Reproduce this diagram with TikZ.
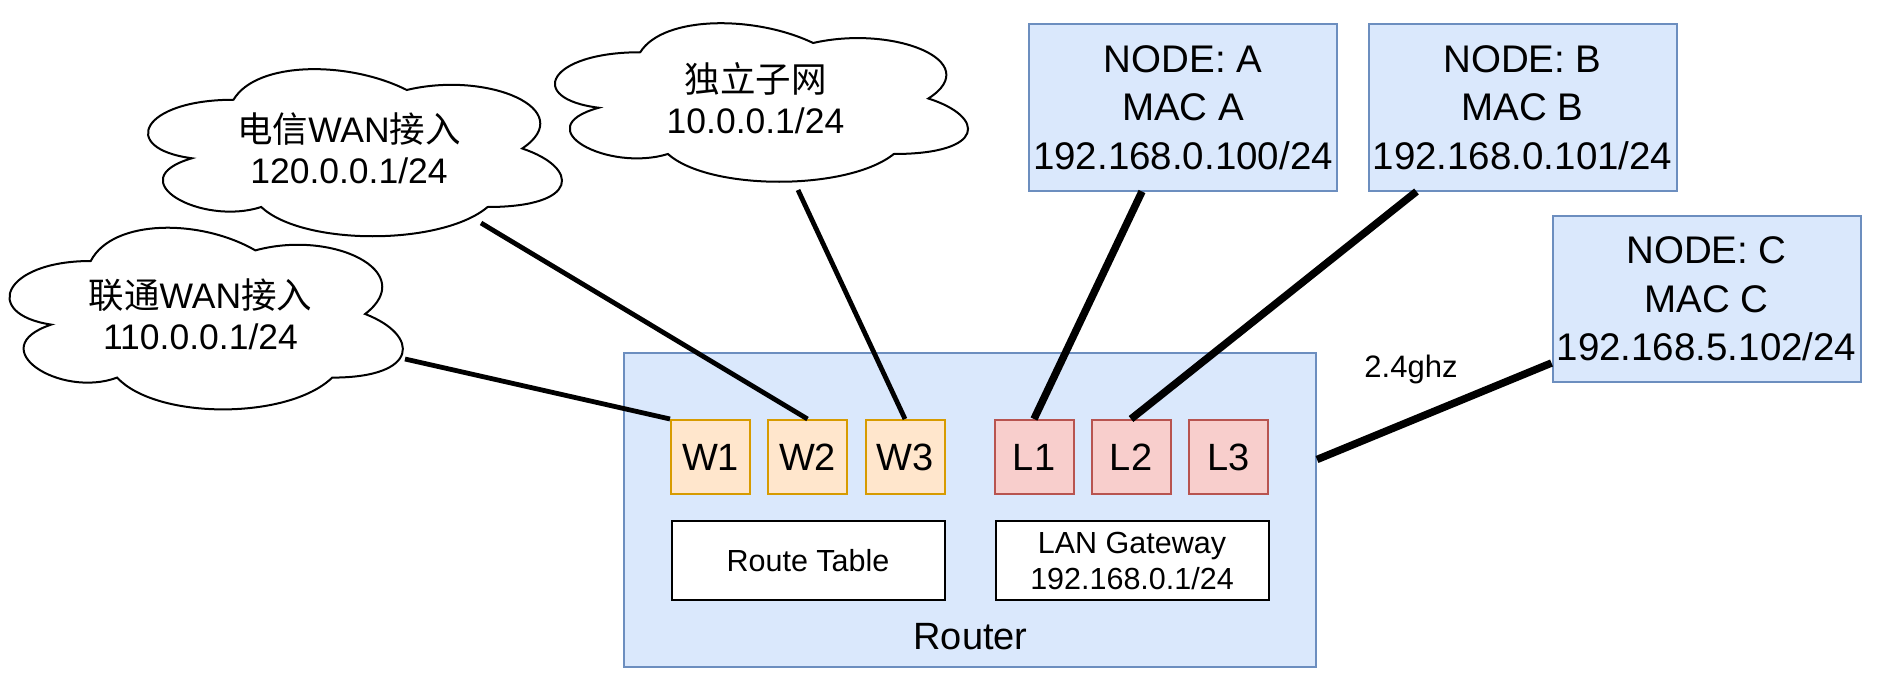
\documentclass[tikz,border=0pt]{standalone}
\usepackage{fontspec}
\setmainfont{Liberation Sans}
\newfontfamily\cjk{Noto Sans CJK SC}
\usetikzlibrary{calc}
\definecolor{blueF}{HTML}{DAE8FC}
\definecolor{blueD}{HTML}{6C8EBF}
\definecolor{orF}{HTML}{FFE6CC}
\definecolor{orD}{HTML}{D79B00}
\definecolor{rdF}{HTML}{F8CECC}
\definecolor{rdD}{HTML}{B85450}
% name, x0, y0, w, h, text
\newcommand\drawiocloud[6]{%
  \begin{scope}[shift={(#2,#3)},x=#4pt,y=-#5pt]
    \draw[cloudline] (0.25,0.25) .. controls (0.05,0.25) and (0,0.5) .. (0.16,0.55)
      .. controls (0,0.66) and (0.18,0.9) .. (0.31,0.8)
      .. controls (0.4,1) and (0.7,1) .. (0.8,0.8)
      .. controls (1,0.8) and (1,0.6) .. (0.875,0.5)
      .. controls (1,0.3) and (0.8,0.1) .. (0.625,0.2)
      .. controls (0.5,0.05) and (0.3,0.05) .. (0.25,0.25) -- cycle;
    \node[cloudtext] (#1) at (0.5,0.5) {#6};
  \end{scope}}
\begin{document}
\begin{tikzpicture}[x=1pt,y=-1pt,
  cloudline/.style={line width=2pt,fill=white},
  cloudtext/.style={inner sep=0pt,align=center,font=\fontsize{35.5}{41}\selectfont},
  bluebox/.style={draw=blueD,fill=blueF,line width=2pt,inner sep=0pt,minimum width=308pt,minimum height=166pt,align=center,font=\fontsize{38.5}{48.5}\selectfont},
  routerbox/.style={draw=blueD,fill=blueF,line width=2pt,inner sep=0pt},
  wport/.style={draw=orD,fill=orF,line width=2pt,minimum width=79pt,minimum height=74pt,inner sep=0pt,font=\fontsize{38}{44}\selectfont},
  lport/.style={wport,draw=rdD,fill=rdF},
  whitebox/.style={draw=black,fill=white,line width=2pt,minimum width=273pt,minimum height=79pt,inner sep=0pt,align=center,font=\fontsize{30.5}{36}\selectfont},
  wanline/.style={line width=4.8pt},
  lanline/.style={line width=7.5pt},
  lbl/.style={inner sep=0pt,font=\fontsize{31}{36}\selectfont},
]
\useasboundingbox (0,0) rectangle (1878,682);

% router
\node[routerbox,minimum width=692pt,minimum height=314pt] (R) at (970,509.5) {};
\node[inner sep=0pt,font=\fontsize{38}{44}\selectfont] (Rt) at (970.5,637) {Router};

% ports
\node[wport] (W1) at (710.5,457) {W1};
\node[wport] (W2) at (807.5,457) {W2};
\node[wport] (W3) at (905,457) {W3};
\node[lport] (L1) at (1034,457) {L1};
\node[lport] (L2) at (1131,457) {L2};
\node[lport] (L3) at (1228.5,457) {L3};

\node[whitebox] (RT) at (808,560.5) {Route Table};
\node[whitebox] (GW) at (1132,560.5) {LAN Gateway\\192.168.0.1/24};

% clients
\node[bluebox] (A) at (1183,107.5) {NODE: A\\MAC A\\192.168.0.100/24};
\node[bluebox] (B) at (1522.5,107.5) {NODE: B\\MAC B\\192.168.0.101/24};
\node[bluebox] (C) at (1706.5,299) {NODE: C\\MAC C\\192.168.5.102/24};

% clouds
\drawiocloud{CU}{-19}{208}{439}{212}{{\cjk 联通}WAN{\cjk 接入}\\110.0.0.1/24}
\drawiocloud{CT}{118}{51}{462}{195}{{\cjk 电信}WAN{\cjk 接入}\\120.0.0.1/24}
\drawiocloud{CS}{525}{6}{461}{185}{{\cjk 独立子网}\\10.0.0.1/24}

\coordinate (cu-out) at (405,359);
\coordinate (ct-out) at (481,223);
\coordinate (cs-out) at (798,190);

% connectors
\draw[wanline] (cu-out) -- (W1.north west);
\draw[wanline] (ct-out) -- (W2.north);
\draw[wanline] (cs-out) -- (W3.north);
\draw[lanline] ([xshift=-41pt]A.south) -- (L1.north);
\draw[lanline] ([xshift=-106pt]B.south) -- (L2.north);
\draw[lanline] ([yshift=-64pt]C.west) -- ([yshift=50pt]R.east);
\node[lbl] (ghz) at (1411,369) {2.4ghz};
\end{tikzpicture}
\end{document}
